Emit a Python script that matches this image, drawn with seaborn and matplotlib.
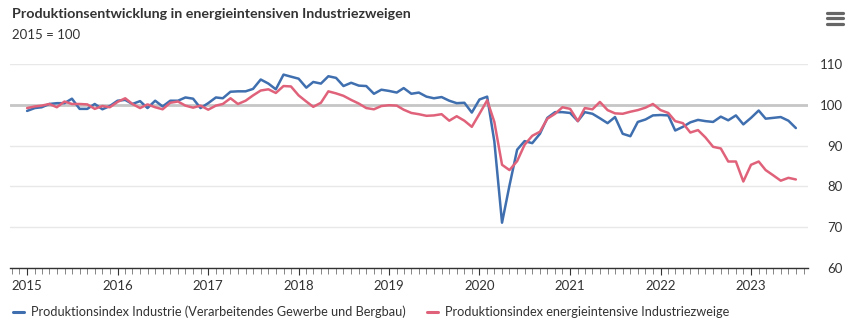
import matplotlib
matplotlib.use("Agg")
import matplotlib.pyplot as plt
import matplotlib.dates as mdates
from matplotlib.lines import Line2D
import numpy as np
import pandas as pd
import seaborn as sns

# ---------------- data ----------------
start_month = "2015-01-01"
n_months = 103

industrie = [
    98.5, 99.2, 99.4, 100.2, 100.4, 100.4, 101.5, 99.0, 99.0, 100.2, 98.9, 99.7,
    101.0, 101.2, 100.2, 100.9, 99.2, 101.0, 99.6, 101.0, 101.0, 101.8, 101.5, 99.2,
    100.4, 101.8, 101.6, 103.2, 103.3, 103.3, 103.9, 106.2, 105.2, 103.8, 107.4, 106.9,
    106.4, 104.2, 105.6, 105.2, 107.0, 106.6, 104.6, 105.4, 104.7, 104.6, 102.7, 103.7,
    103.4, 103.0, 104.1, 102.7, 103.0, 102.0, 101.6, 101.9, 101.0, 100.4, 100.5, 98.1,
    101.3, 102.0, 91.0, 71.1, 80.2, 89.0, 91.1, 90.6, 92.9, 96.8, 98.2, 98.2,
    98.0, 96.0, 98.2, 97.8, 96.7, 95.5, 97.0, 92.9, 92.3, 95.8, 96.4, 97.4,
    97.5, 97.4, 93.7, 94.6, 95.7, 96.3, 96.0, 95.8, 97.1, 96.2, 97.4, 95.2,
    96.8, 98.6, 96.6, 96.8, 97.0, 96.1, 94.3,
]

energie = [
    99.2, 99.6, 99.8, 100.2, 99.4, 100.8, 100.2, 100.2, 100.1, 99.0, 99.7, 99.4,
    100.7, 101.6, 100.2, 99.2, 100.1, 99.4, 98.9, 100.5, 100.8, 99.8, 99.3, 99.8,
    98.8, 99.8, 100.2, 101.6, 100.2, 101.0, 102.3, 103.5, 103.8, 102.9, 104.6, 104.5,
    102.3, 100.8, 99.5, 100.5, 103.3, 102.8, 102.2, 101.2, 100.3, 99.2, 98.9, 99.7,
    99.9, 99.8, 98.8, 98.0, 97.7, 97.3, 97.4, 97.7, 96.1, 97.2, 96.1, 94.6,
    97.8, 101.1, 95.8, 85.3, 84.0, 86.2, 90.2, 92.4, 93.4, 96.6, 97.8, 99.4,
    99.0, 96.0, 99.2, 98.9, 100.7, 98.7, 97.9, 97.8, 98.3, 98.7, 99.3, 100.2,
    98.7, 98.0, 96.0, 95.5, 93.2, 93.8, 92.0, 89.7, 89.3, 86.1, 86.1, 81.2,
    85.3, 86.1, 84.0, 82.7, 81.4, 82.1, 81.7,
]

series_names = [
    "Produktionsindex Industrie (Verarbeitendes Gewerbe und Bergbau)",
    "Produktionsindex energieintensive Industriezweige",
]
y_ticks = [60, 70, 80, 90, 100, 110]
title = "Produktionsentwicklung in energieintensiven Industriezweigen"
subtitle = "2015 = 100"

# ---------------- styling ----------------
BLUE = "#3f6faf"
RED = "#e0627a"
TXT = "#333333"

sns.set_theme(style="white")
plt.rcParams["font.family"] = ["Lato", "DejaVu Sans"]

months = pd.date_range(start_month, periods=n_months, freq="MS")
df = pd.DataFrame({
    "Monat": list(months) * 2,
    "Index": industrie + energie,
    "Reihe": [series_names[0]] * n_months + [series_names[1]] * n_months,
})

W, H = 858, 325
fig = plt.figure(figsize=(W / 100, H / 100), dpi=100)
ax = fig.add_axes([10 / W, 57 / H, 798 / W, 204 / H])

sns.lineplot(data=df, x="Monat", y="Index", hue="Reihe",
             palette={series_names[0]: BLUE, series_names[1]: RED},
             linewidth=1.8, ax=ax, legend=False, zorder=3)

ax.set_ylim(60, 110)
ax.set_yticks(y_ticks)
ax.yaxis.grid(True, color="#e8e8e8", linewidth=1)
ax.xaxis.grid(False)
ax.axhline(100, color="#c6c6c6", linewidth=2, zorder=2)
ax.set_xlim(pd.Timestamp("2014-10-24"), pd.Timestamp("2023-08-19"))

for s in ["top", "left", "right"]:
    ax.spines[s].set_visible(False)
ax.spines["bottom"].set_color(TXT)
ax.spines["bottom"].set_linewidth(1)

ax.xaxis.set_major_locator(mdates.YearLocator())
ax.xaxis.set_major_formatter(mdates.DateFormatter("%Y"))
ax.xaxis.set_minor_locator(mdates.MonthLocator())
ax.tick_params(axis="x", which="major", bottom=True, length=5, width=0.8,
               color=TXT, labelsize=9.5, labelcolor=TXT, pad=4)
ax.tick_params(axis="x", which="minor", bottom=True, length=4, width=0.5, color="#555555")

ax.yaxis.tick_right()
ax.tick_params(axis="y", length=0, pad=25, labelsize=9.5, labelcolor=TXT)
plt.setp(ax.get_yticklabels(), ha="right")
ax.set_xlabel("")
ax.set_ylabel("")

fig.text(12 / W, 1 - 14 / H, title, fontsize=10.3, fontweight="bold",
         color=TXT, va="center", ha="left")
fig.text(12 / W, 1 - 35 / H, subtitle, fontsize=9.5, color=TXT,
         va="center", ha="left")

for yy in (12.5, 18, 23.5):
    fig.add_artist(Line2D([827 / W, 843 / W], [1 - yy / H] * 2,
                          color="#666666", linewidth=2.3,
                          transform=fig.transFigure))

handles = [Line2D([], [], color=BLUE, linewidth=2.2),
           Line2D([], [], color=RED, linewidth=2.2)]
fig.legend(handles, series_names, loc="center left",
           bbox_to_anchor=(13 / W, 1 - 312 / H), ncol=2, frameon=False,
           handlelength=0.85, handletextpad=0.55, columnspacing=1.7,
           fontsize=9.2, labelcolor=TXT, borderpad=0, borderaxespad=0)

fig.savefig("out.png", dpi=100)
